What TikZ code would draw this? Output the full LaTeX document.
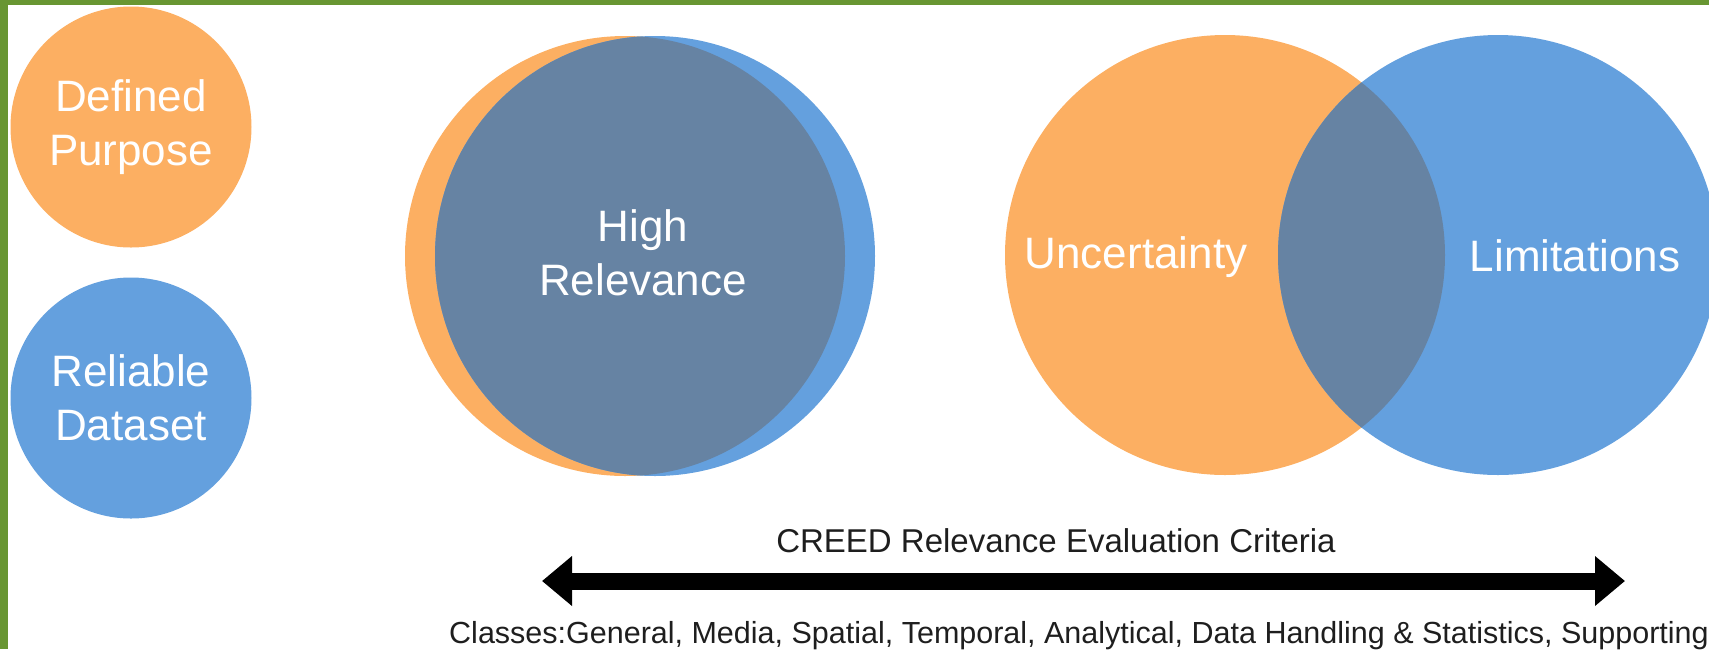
\documentclass[tikz,border=0pt]{standalone}
\usepackage{fontspec}
\setmainfont{Liberation Sans}
\usepackage{tikz}
\usetikzlibrary{arrows.meta}
\definecolor{venorange}{RGB}{252,175,98}
\definecolor{venblue}{RGB}{100,160,222}
\definecolor{venmix}{RGB}{102,131,163}
\definecolor{frameg}{RGB}{104,150,50}
\definecolor{textdark}{RGB}{30,30,30}
\tikzset{
	orangestyle/.style={circle,fill=venorange,inner sep=0pt,minimum size=241pt,text=white,align=center},
	bluestyle/.style={circle,fill=venblue,inner sep=0pt,minimum size=241pt,text=white,align=center},
	bigfont/.style={font=\fontsize{44}{54}\selectfont},
	whitelabel/.style={text=white,align=center,inner sep=0pt,bigfont},
	darklabel/.style={text=textdark,inner sep=0pt,anchor=base}
}
\begin{document}
\begin{tikzpicture}[x=1pt,y=-1pt]
		\useasboundingbox (0,0) rectangle (1709,649);
		\fill[frameg] (0,0) rectangle (1709,5);
		\fill[frameg] (0,0) rectangle (8,649);
		% key
		\node[orangestyle,bigfont] (dp) at (131,127) {Defined\\Purpose};
		\node[bluestyle,bigfont] (rd) at (131,398) {Reliable\\Dataset};
		% high relevance
		\fill[venorange] (625,256) circle[radius=220pt];
		\fill[venblue] (655,256) circle[radius=220pt];
		\begin{scope}
			\clip (625,256) circle[radius=220pt];
			\fill[venmix] (655,256) circle[radius=220pt];
		\end{scope}
		\node[whitelabel] (hr) at (643,253) {High\\Relevance};
		% uncertainty / limitations
		\fill[venorange] (1225,255) circle[radius=220pt];
		\fill[venblue] (1498,255) circle[radius=220pt];
		\begin{scope}
			\clip (1225,255) circle[radius=220pt];
			\fill[venmix] (1498,255) circle[radius=220pt];
		\end{scope}
		\node[whitelabel,anchor=base] (un) at (1136,268) {Uncertainty};
		\node[whitelabel,anchor=base] (li) at (1575,271) {Limitations};
		% criteria arrow
		\coordinate (al) at (542,581);
		\coordinate (ar) at (1625,581);
		\draw[{Triangle[length=30pt,width=48pt]}-{Triangle[length=30pt,width=48pt]},line width=17pt] (al)--(ar);
		\node[darklabel,font=\fontsize{33}{40}\selectfont] (cr) at (1056,552) {CREED Relevance Evaluation Criteria};
		\node[darklabel,font=\fontsize{30.5}{36}\selectfont] (cl) at (1079,643) {Classes:General, Media, Spatial, Temporal, Analytical, Data Handling \& Statistics, Supporting};
\end{tikzpicture}
\end{document}
